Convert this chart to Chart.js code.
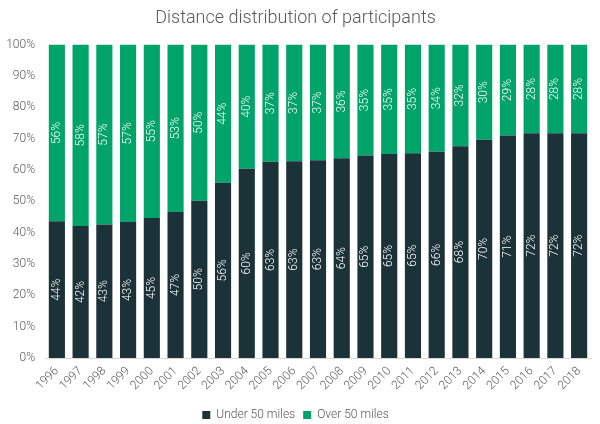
<!DOCTYPE html>
<html>
<head>
<meta charset="utf-8">
<script src="https://cdn.jsdelivr.net/npm/chart.js@4"></script>
<style>
  html, body { margin: 0; padding: 0; background: #fff; }
  #wrap { width: 600px; height: 424px; }
</style>
</head>
<body>
<div id="wrap"><canvas id="chart" width="600" height="424"></canvas></div>
<script>
const years = ['1996','1997','1998','1999','2000','2001','2002','2003','2004','2005','2006','2007',
               '2008','2009','2010','2011','2012','2013','2014','2015','2016','2017','2018'];
const underFifty = [43.6, 42.1, 42.6, 43.4, 44.7, 46.6, 50.2, 55.9, 60.4, 62.6, 62.8, 63.1,
                    63.7, 64.6, 65.1, 65.3, 65.8, 67.6, 69.6, 71.0, 71.7, 71.7, 71.7];
const overFifty = [56.4, 57.9, 57.4, 56.6, 55.3, 53.4, 49.8, 44.1, 39.6, 37.4, 37.2, 36.9,
                   36.3, 35.4, 34.9, 34.7, 34.2, 32.4, 30.4, 29.0, 28.3, 28.3, 28.3];
const yTicks = [0, 10, 20, 30, 40, 50, 60, 70, 80, 90, 100];

const textGrey = '#595959';
const fontFam = "Roboto, 'Liberation Sans', sans-serif";

// white rotated percentage labels inside each segment
const barLabels = {
    id: 'barLabels',
    afterDatasetsDraw(chart) {
        const ctx = chart.ctx;
        ctx.save();
        ctx.fillStyle = '#ffffff';
        ctx.font = '300 12px ' + fontFam;
        ctx.textAlign = 'center';
        ctx.textBaseline = 'middle';
        chart.data.datasets.forEach((ds, i) => {
            const meta = chart.getDatasetMeta(i);
            meta.data.forEach((bar, j) => {
                const mid = (bar.y + bar.base) / 2;
                ctx.save();
                ctx.translate(bar.x, mid);
                ctx.rotate(-Math.PI / 2);
                ctx.fillText(Math.round(ds.data[j]) + '%', 0, 0);
                ctx.restore();
            });
        });
        ctx.restore();
    }
};

new Chart(document.getElementById('chart'), {
    type: 'bar',
    data: {
        labels: years,
        datasets: [
            { label: 'Under 50 miles', data: underFifty, backgroundColor: '#1c3239', barPercentage: 0.68, categoryPercentage: 1 },
            { label: 'Over 50 miles', data: overFifty, backgroundColor: '#00a36a', barPercentage: 0.68, categoryPercentage: 1 }
        ]
    },
    options: {
        responsive: false,
        animation: false,
        layout: { padding: { left: 0, right: 9, top: 0, bottom: -7 } },
        plugins: {
            title: {
                display: true,
                text: 'Distance distribution of participants',
                color: textGrey,
                font: { family: fontFam, size: 18, weight: '300' },
                padding: { top: 8, bottom: 15 }
            },
            legend: {
                position: 'bottom',
                labels: {
                    color: textGrey,
                    font: { family: fontFam, size: 12, weight: '300' },
                    boxWidth: 8,
                    boxHeight: 8,
                    padding: 8
                }
            },
            tooltip: { enabled: false }
        },
        scales: {
            x: {
                stacked: true,
                grid: { display: false, drawTicks: false },
                border: { color: '#d9d9d9' },
                afterFit(scale) { scale.height = 43; },
                ticks: {
                    color: textGrey,
                    font: { family: fontFam, size: 12, weight: '300' },
                    autoSkip: false,
                    minRotation: 45,
                    maxRotation: 45,
                    padding: 6
                }
            },
            y: {
                stacked: true,
                min: 0,
                max: 100,
                grid: { display: false, drawTicks: false },
                border: { display: false },
                afterBuildTicks(scale) { scale.ticks = yTicks.map(v => ({ value: v })); },
                afterFit(scale) { scale.width = 45; },
                ticks: {
                    color: textGrey,
                    font: { family: fontFam, size: 12, weight: '300' },
                    padding: 10,
                    callback: v => v + '%'
                }
            }
        }
    },
    plugins: [barLabels]
});
</script>
</body>
</html>
